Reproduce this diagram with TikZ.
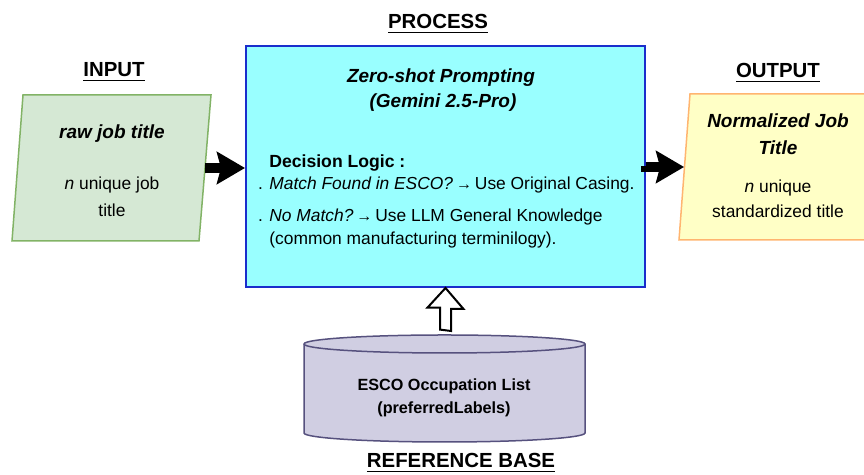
\documentclass[tikz,border=0pt]{standalone}
\usepackage{fontspec}
\setmainfont{Liberation Sans}
\usetikzlibrary{arrows.meta,calc}
\definecolor{ingreen}{HTML}{D5E8D4}
\definecolor{ingreenline}{HTML}{82B366}
\definecolor{proccyan}{HTML}{99FFFF}
\definecolor{procblue}{HTML}{1A2ECC}
\definecolor{outyellow}{HTML}{FFFFC6}
\definecolor{outorange}{HTML}{FFB570}
\definecolor{dbpurple}{HTML}{D0CEE2}
\definecolor{dbline}{HTML}{56517E}
\newcommand{\smallarr}{{\fontsize{8}{8}\selectfont\bfseries\raisebox{0.4pt}{→}}}
\tikzset{
  headlbl/.style={font=\fontsize{10.2}{12}\selectfont\bfseries, anchor=base, inner sep=0},
  titletext/.style={font=\fontsize{9.5}{11}\selectfont\bfseries\itshape, anchor=base, inner sep=0},
  bodytext/.style={font=\fontsize{8.7}{10.5}\selectfont, anchor=base, inner sep=0},
  fatarrow/.style={line width=5pt, -{Stealth[length=14pt,width=16pt,inset=2pt]}},
  hollowarrow/.style={line width=1pt, fill=white, line join=miter},
}

\begin{document}
\begin{tikzpicture}[x=0.5pt,y=0.5pt]
\clip (0,0) rectangle (864,475);
% input
\draw[ingreenline, fill=ingreen, line width=0.75pt] (23,380) -- (211,380) -- (199,234) -- (12,234) -- cycle;
\node[minimum width=93.75pt, minimum height=73pt] (input) at (111.25,307) {};
\node[headlbl] (inputlbl) at (114,398) {\underline{INPUT}};
\node[titletext] (rawname) at (112,336) {raw job title};
\node[bodytext] (rawcount) at (112,285) {\textit{n} unique job};
\node[bodytext] (rawcount2) at (112,258) {title};
% process
\node[draw=procblue, fill=proccyan, line width=1pt, minimum width=199.5pt, minimum height=120.5pt] (proc) at (445.5,308.5) {};
\node[headlbl] (proclbl) at (438,446) {\underline{PROCESS}};
\node[titletext] (zeroshot) at (441,392) {Zero-shot Prompting};
\node[titletext] (gemini) at (443,367) {(Gemini 2.5-Pro)};
\node[bodytext, anchor=base west, font=\fontsize{8.8}{10.5}\selectfont\bfseries] (logic) at (269,307) {Decision Logic :};
\node[bodytext, anchor=base west] (rulea) at (269,285) {\llap{. }\textit{Match Found in ESCO?}\,\smallarr\,Use Original Casing.};
\node[bodytext, anchor=base west] (ruleb) at (269,253) {\llap{. }\textit{No Match?}\,\smallarr\,Use LLM General Knowledge};
\node[bodytext, anchor=base west] (rulec) at (269,230) {(common manufacturing terminilogy).};
% output
\draw[outorange, fill=outyellow, line width=0.75pt] (690,381) -- (877,381) -- (866,235) -- (679,235) -- cycle;
\node[minimum width=93.5pt, minimum height=73pt] (output) at (778,308) {};
\node[headlbl] (outputlbl) at (778,397) {\underline{OUTPUT}};
\node[titletext] (normname) at (778,347) {Normalized Job};
\node[titletext] (normname2) at (778,320) {Title};
\node[bodytext] (normcount) at (778,282) {\textit{n} unique};
\node[bodytext] (normcount2) at (778,257) {standardized title};
% reference base
\draw[dbline, fill=dbpurple, line width=0.75pt] (304,131) -- (304,42) arc[start angle=180, end angle=360, x radius=140.5, y radius=9] -- (585,131) arc[start angle=0, end angle=180, x radius=140.5, y radius=9] -- cycle;
\draw[dbline, line width=0.75pt] (304,131) arc[start angle=180, end angle=360, x radius=140.5, y radius=9];
\node[minimum width=140.5pt, minimum height=53.5pt] (db) at (444.5,86.5) {};
\node[bodytext, font=\fontsize{8.1}{10}\selectfont\bfseries] (dbname) at (444,84) {ESCO Occupation List};
\node[bodytext, font=\fontsize{8.1}{10}\selectfont\bfseries] (dbname2) at (444,61) {(preferredLabels)};
\node[headlbl] (dblbl) at (461,7) {\underline{REFERENCE BASE}};
% connectors
\draw[fatarrow] (input.east) -- (input.east -| proc.west);
\draw[fatarrow] (proc.east) -- (proc.east |- output.west) -- (output.west);
\draw[hollowarrow] ($(db.north -| proc.south)+(-5.5,5)$) -- ++(0,22) -- ++(-12.5,0) -- (proc.south) -- ++(18,-21) -- ++(-12.5,0) -- ++(0,-22) -- cycle;
\end{tikzpicture}
\end{document}
